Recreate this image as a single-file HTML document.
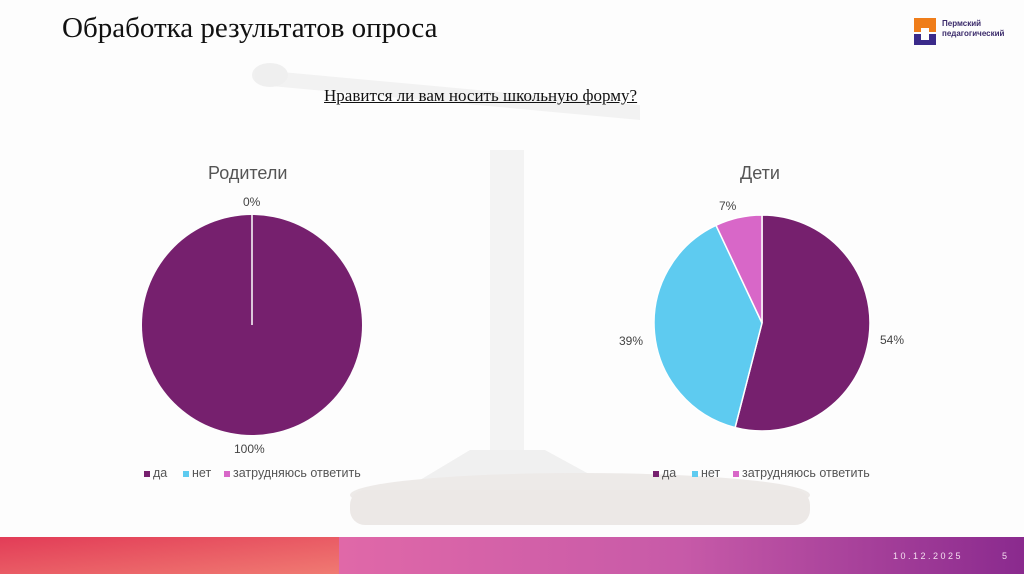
<!DOCTYPE html>
<html><head><meta charset="utf-8"><style>
body{margin:0;width:1024px;height:574px;overflow:hidden;background:#fdfdfd;font-family:"Liberation Sans",sans-serif;position:relative}
.t{position:absolute}
</style></head><body>
<svg class="t" style="left:0;top:0" width="1024" height="574">
<g opacity="0.9">
<path d="M260 70 L640 105 L640 120 L260 85Z" fill="#f1f1f1"/>
<rect x="490" y="150" width="34" height="320" fill="#f2f2f2"/>
<path d="M470 450 L545 450 L600 480 L420 480Z" fill="#efefef"/>
<ellipse cx="580" cy="495" rx="230" ry="22" fill="#ece8e6"/>
<rect x="350" y="490" width="460" height="35" rx="15" fill="#ebe6e4"/>
<ellipse cx="270" cy="75" rx="18" ry="12" fill="#eeeeee"/>
</g>
<defs>
<linearGradient id="g1" x1="0" y1="0" x2="1" y2="1"><stop offset="0" stop-color="#e23c57"/><stop offset="1" stop-color="#f07a72"/></linearGradient>
<linearGradient id="g2" x1="0" y1="0" x2="1" y2="0"><stop offset="0" stop-color="#e068a8"/><stop offset="0.5" stop-color="#c75aa8"/><stop offset="1" stop-color="#8a2a8e"/></linearGradient>
</defs>
<rect x="0" y="537" width="339" height="37" fill="url(#g1)"/>
<rect x="339" y="537" width="685" height="37" fill="url(#g2)"/>
<circle cx="252" cy="325" r="110" fill="#76206e"/>
<line x1="252" y1="215" x2="252" y2="325" stroke="#fff" stroke-width="1.5"/>
<path d="M762 323 L762 215 A108 108 0 1 1 735.1 427.6Z" fill="#76206e" stroke="#fff" stroke-width="1.5"/>
<path d="M762 323 L735.1 427.6 A108 108 0 0 1 716 225.3Z" fill="#5ecbf0" stroke="#fff" stroke-width="1.5"/>
<path d="M762 323 L716 225.3 A108 108 0 0 1 762 215Z" fill="#d867c8" stroke="#fff" stroke-width="1.5"/>
<rect x="144" y="471" width="6" height="6" fill="#76206e"/>
<rect x="183" y="471" width="6" height="6" fill="#5ecbf0"/>
<rect x="224" y="471" width="6" height="6" fill="#d867c8"/>
<rect x="653" y="471" width="6" height="6" fill="#76206e"/>
<rect x="692" y="471" width="6" height="6" fill="#5ecbf0"/>
<rect x="733" y="471" width="6" height="6" fill="#d867c8"/>
<rect x="914" y="18" width="22" height="10" fill="#ef7d1a"/>
<rect x="914" y="28" width="7" height="4" fill="#ef7d1a"/><rect x="929" y="28" width="7" height="4" fill="#ef7d1a"/>
<rect x="914" y="34" width="7" height="11" fill="#3a2a8a"/><rect x="929" y="34" width="7" height="11" fill="#3a2a8a"/>
<rect x="914" y="40" width="22" height="5" fill="#3a2a8a"/>
</svg>
<div class="t" style="left:62px;top:12px;font:29px 'Liberation Serif',serif;color:#111">Обработка результатов опроса</div>
<div class="t" style="left:942px;top:19px;font:bold 8px 'Liberation Sans',sans-serif;color:#3a2a6a;line-height:10px">Пермский<br>педагогический</div>
<div class="t" style="left:324px;top:86px;font:17px 'Liberation Serif',serif;color:#111;text-decoration:underline">Нравится ли вам носить школьную форму?</div>
<div class="t" style="left:208px;top:163px;font:18px 'Liberation Sans',sans-serif;color:#555">Родители</div>
<div class="t" style="left:740px;top:163px;font:18px 'Liberation Sans',sans-serif;color:#555">Дети</div>
<div class="t" style="left:243px;top:195px;font:12px 'Liberation Sans',sans-serif;color:#444">0%</div>
<div class="t" style="left:234px;top:442px;font:12px 'Liberation Sans',sans-serif;color:#444">100%</div>
<div class="t" style="left:719px;top:199px;font:12px 'Liberation Sans',sans-serif;color:#444">7%</div>
<div class="t" style="left:619px;top:334px;font:12px 'Liberation Sans',sans-serif;color:#444">39%</div>
<div class="t" style="left:880px;top:333px;font:12px 'Liberation Sans',sans-serif;color:#444">54%</div>
<div class="t" style="left:153px;top:466px;font:12.5px 'Liberation Sans',sans-serif;color:#555">да</div>
<div class="t" style="left:192px;top:466px;font:12.5px 'Liberation Sans',sans-serif;color:#555">нет</div>
<div class="t" style="left:233px;top:466px;font:12.5px 'Liberation Sans',sans-serif;color:#555">затрудняюсь ответить</div>
<div class="t" style="left:662px;top:466px;font:12.5px 'Liberation Sans',sans-serif;color:#555">да</div>
<div class="t" style="left:701px;top:466px;font:12.5px 'Liberation Sans',sans-serif;color:#555">нет</div>
<div class="t" style="left:742px;top:466px;font:12.5px 'Liberation Sans',sans-serif;color:#555">затрудняюсь ответить</div>
<div class="t" style="left:893px;top:551px;font:9px 'Liberation Sans',sans-serif;color:#f4dff0;letter-spacing:2.5px">10.12.2025</div>
<div class="t" style="left:1002px;top:551px;font:9px 'Liberation Sans',sans-serif;color:#f4dff0">5</div>
</body></html>
